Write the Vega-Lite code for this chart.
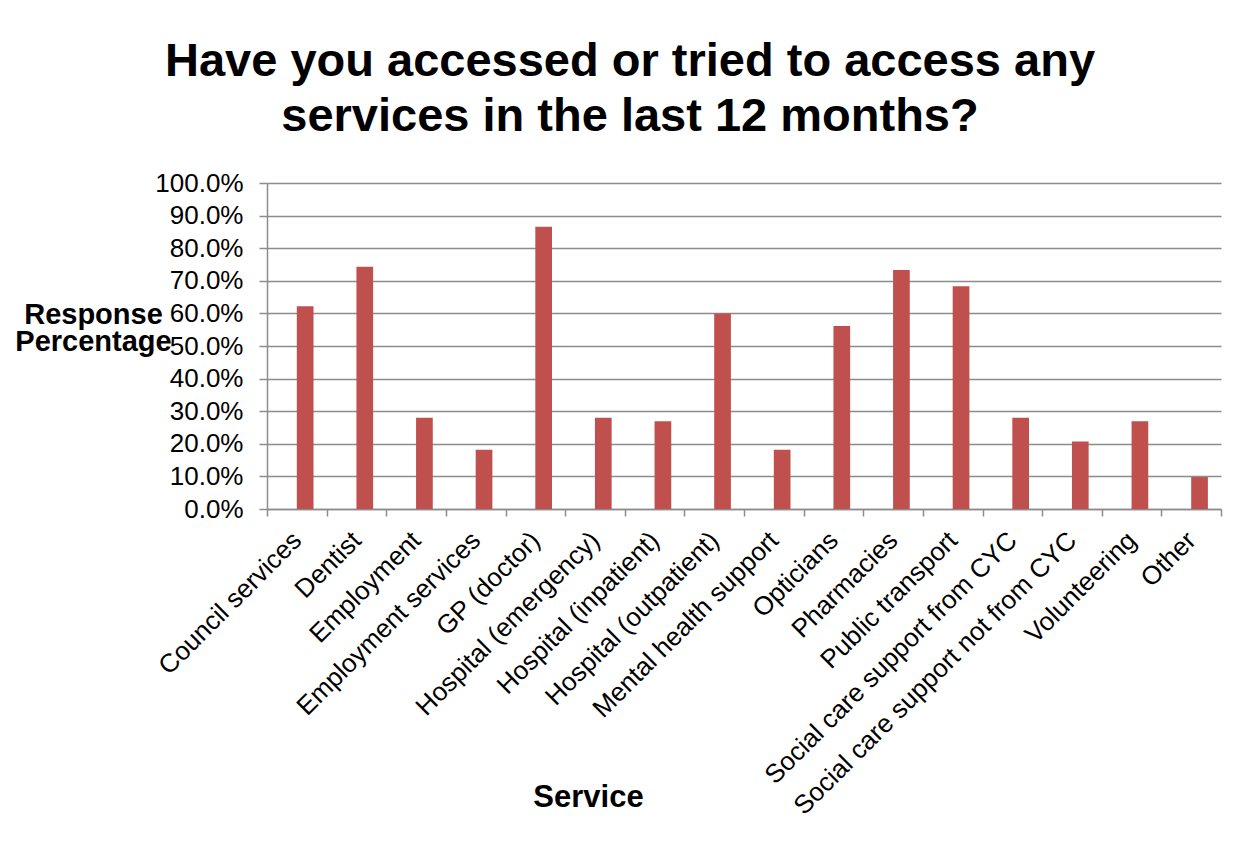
{
  "$schema": "https://vega.github.io/schema/vega-lite/v6.json",
  "width": 954,
  "height": 326,
  "autosize": "none",
  "padding": {"left": 267, "top": 183, "right": 31, "bottom": 337},
  "background": "white",
  "title": {
    "text": ["Have you accessed or tried to access any", "services in the last 12 months?"],
    "font": "Liberation Sans",
    "fontSize": 47,
    "fontWeight": "bold",
    "color": "black",
    "anchor": "middle",
    "dx": -114,
    "dy": 58,
    "lineHeight": 55,
    "baseline": "alphabetic",
    "offset": 50
  },
  "data": {
    "values": [
      {"service": "Council services", "series": "Responses", "pct": 0.622},
      {"service": "Dentist", "series": "Responses", "pct": 0.743},
      {"service": "Employment", "series": "Responses", "pct": 0.280},
      {"service": "Employment services", "series": "Responses", "pct": 0.182},
      {"service": "GP (doctor)", "series": "Responses", "pct": 0.866},
      {"service": "Hospital (emergency)", "series": "Responses", "pct": 0.280},
      {"service": "Hospital (inpatient)", "series": "Responses", "pct": 0.269},
      {"service": "Hospital (outpatient)", "series": "Responses", "pct": 0.600},
      {"service": "Mental health support", "series": "Responses", "pct": 0.182},
      {"service": "Opticians", "series": "Responses", "pct": 0.561},
      {"service": "Pharmacies", "series": "Responses", "pct": 0.733},
      {"service": "Public transport", "series": "Responses", "pct": 0.683},
      {"service": "Social care support from CYC", "series": "Responses", "pct": 0.280},
      {"service": "Social care support not from CYC", "series": "Responses", "pct": 0.207},
      {"service": "Volunteering", "series": "Responses", "pct": 0.269},
      {"service": "Other", "series": "Responses", "pct": 0.098}
    ]
  },
  "mark": {"type": "bar", "color": "#C0504D"},
  "encoding": {
    "x": {
      "field": "service",
      "type": "nominal",
      "sort": null,
      "scale": {"paddingInner": 0, "paddingOuter": 0},
      "axis": {
        "title": "Service",
        "titleFont": "Liberation Sans",
        "titleFontSize": 31,
        "titleFontWeight": "bold",
        "titleColor": "black",
        "titleX": 321,
        "titleY": 297,
        "titleAnchor": "middle",
        "titleAlign": "center",
        "titleBaseline": "alphabetic",
        "labelFont": "Liberation Sans",
        "labelFontSize": 26,
        "labelColor": "black",
        "labelAngle": -45,
        "labelAlign": "right",
        "labelBaseline": "middle",
        "labelLimit": 500,
        "labelPadding": 20,
        "tickBand": "extent",
        "tickSize": 7,
        "tickColor": "#8c8c8c",
        "tickWidth": 1.5,
        "domainColor": "#8c8c8c",
        "domainWidth": 1.5,
        "grid": false
      }
    },
    "xOffset": {
      "field": "series",
      "type": "nominal",
      "scale": {"domain": ["blank", "Responses"], "paddingInner": 0, "paddingOuter": 0.785}
    },
    "y": {
      "field": "pct",
      "type": "quantitative",
      "scale": {"domain": [0, 1], "nice": false},
      "axis": {
        "title": ["Response", "Percentage"],
        "titleFont": "Liberation Sans",
        "titleFontSize": 29,
        "titleFontWeight": "bold",
        "titleColor": "black",
        "titleAngle": 0,
        "titleAlign": "center",
        "titleBaseline": "alphabetic",
        "titleLineHeight": 27,
        "titleX": -174,
        "titleY": 140,
        "values": [0, 0.1, 0.2, 0.3, 0.4, 0.5, 0.6, 0.7, 0.8, 0.9, 1.0],
        "format": ".1%",
        "labelFont": "Liberation Sans",
        "labelFontSize": 26,
        "labelColor": "black",
        "labelPadding": 16,
        "tickSize": 8,
        "tickColor": "#8c8c8c",
        "tickWidth": 1.5,
        "domainColor": "#8c8c8c",
        "domainWidth": 1.5,
        "grid": true,
        "gridColor": "#8c8c8c",
        "gridWidth": 1.5
      }
    }
  },
  "config": {
    "view": {"stroke": null},
    "legend": {"disable": true}
  }
}
